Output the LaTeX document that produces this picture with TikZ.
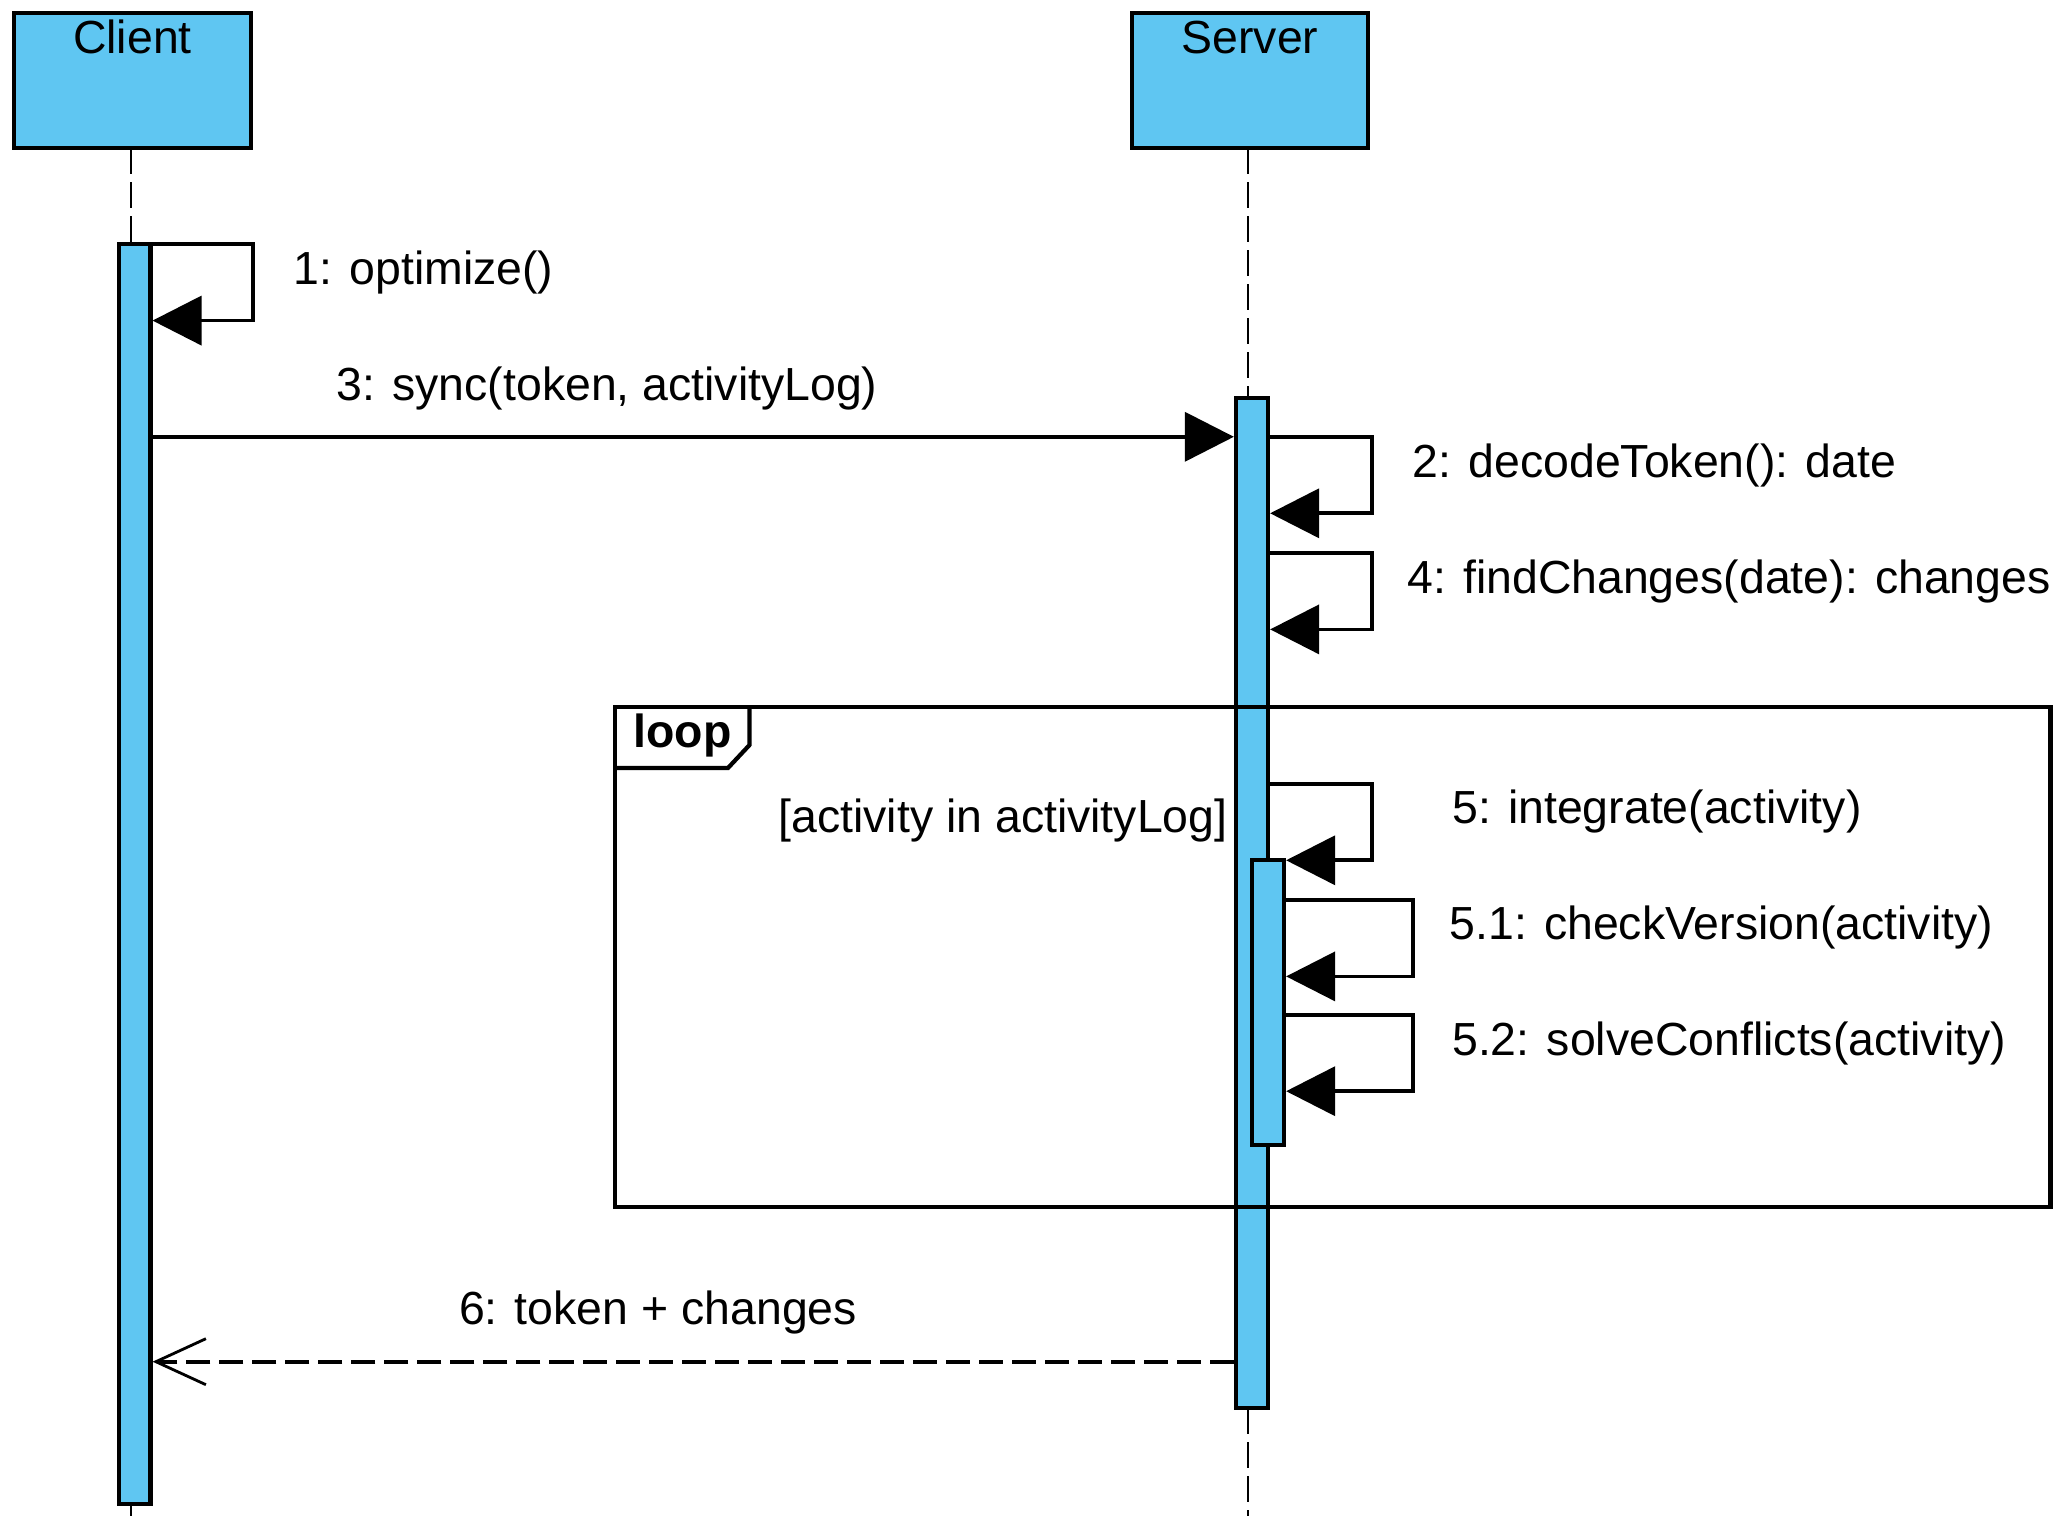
\documentclass[tikz,border=0pt]{standalone}
\usepackage{fontspec}
\setmainfont{Liberation Sans}
\usetikzlibrary{arrows.meta}
\definecolor{lifeblue}{HTML}{5FC6F2}
\begin{document}
\begin{tikzpicture}[x=0.01cm,y=-0.01cm,
  lbl/.style={font=\fontsize{13.2}{16}\selectfont, inner sep=0pt},
  headbox/.style={draw, line width=1.2pt, fill=lifeblue, inner sep=0pt},
  bar/.style={draw, line width=1.2pt, fill=lifeblue, inner sep=0pt},
  lifeline/.style={line width=0.7pt, dash pattern=on 0.26cm off 0.08cm},
  msg/.style={line width=1.05pt, -{Triangle[length=4.9mm,width=4.9mm]}},
  reply/.style={line width=1.05pt, dash pattern=on 0.24cm off 0.09cm, -{Straight Barb[length=5mm,width=4.6mm,line width=0.8pt]}},
  framebox/.style={line width=1.2pt}
]
\path[use as bounding box] (0,0) rectangle (2069,1516);

% heads
\node[headbox, minimum width=2.37cm, minimum height=1.35cm] (client) at (132.5,80.5) {};
\node[headbox, minimum width=2.36cm, minimum height=1.35cm] (server) at (1250,80.5) {};
\node[lbl, anchor=base] (clientlbl) at (132.5,54) {Client};
\node[lbl, anchor=base] (serverlbl) at (1250,54) {Server};

% lifelines
\coordinate (cl0) at (131,148);
\coordinate (cl1) at (131,244);
\coordinate (cl2) at (131,1504);
\coordinate (cl3) at (131,1516);
\coordinate (sl0) at (1248,148);
\coordinate (sl1) at (1248,398.5);
\coordinate (sl2) at (1248,1408);
\coordinate (sl3) at (1248,1516);
\draw[lifeline] (cl0) -- (cl1);
\draw[lifeline] (cl2) -- (cl3);
\draw[lifeline] (sl0) -- (sl1);
\draw[lifeline] (sl2) -- (sl3);

% guard text (behind the server bar)
\node[lbl, anchor=base, fill=white, inner xsep=3pt, inner ysep=3pt] (guard) at (1003,832.6) {[activity in activityLog]};

% activation bars
\node[bar, minimum width=0.316cm, minimum height=12.6cm] (cbar) at (134.6,874) {};
\node[bar, minimum width=0.32cm, minimum height=10.095cm] (sbar) at (1252,903.25) {};

% loop frame
\coordinate (fr0) at (614.9,707.3);
\coordinate (fr1) at (2050.5,1207.3);
\draw[framebox] (fr0) rectangle (fr1);
\coordinate (tab0) at (614.9,768);
\coordinate (tab1) at (728,768);
\coordinate (tab2) at (749.5,745);
\coordinate (tab3) at (749.5,707.3);
\draw[framebox] (tab0) -- (tab1) -- (tab2) -- (tab3);
\node[lbl, anchor=base west, font=\fontsize{13.2}{16}\selectfont\bfseries] (looplbl) at (633,748) {loop};

% nested bar
\node[bar, minimum width=0.32cm, minimum height=2.85cm] (nbar) at (1268,1002.5) {};

% 1: optimize()
\coordinate (l1a) at (253,244);
\coordinate (l1b) at (253,320.6);
\draw[msg] (cbar.east |- l1a) -- (l1a) -- (l1b) -- (cbar.east |- l1b);
\node[lbl, anchor=base west] (t1) at (293,285) {1: optimize()};

% 3: sync
\coordinate (m3) at (0,436.8);
\draw[msg] (cbar.east |- m3) -- (sbar.west |- m3);
\node[lbl, anchor=base] (t3) at (607,401) {3: sync(token, activityLog)};

% 2: decodeToken
\coordinate (l2a) at (1372.3,436.8);
\coordinate (l2b) at (1372.3,513.3);
\draw[msg] (sbar.east |- l2a) -- (l2a) -- (l2b) -- (sbar.east |- l2b);
\node[lbl, anchor=base west] (t2) at (1412,477.7) {2: decodeToken(): date};

% 4: findChanges
\coordinate (l4a) at (1372.3,552.9);
\coordinate (l4b) at (1372.3,629.4);
\draw[msg] (sbar.east |- l4a) -- (l4a) -- (l4b) -- (sbar.east |- l4b);
\node[lbl, anchor=base west] (t4) at (1406.6,593.8) {4: findChanges(date): changes};

% 5: integrate
\coordinate (l5a) at (1372.3,783.8);
\coordinate (l5b) at (1372.3,860.3);
\draw[msg] (sbar.east |- l5a) -- (l5a) -- (l5b) -- (nbar.east |- l5b);
\node[lbl, anchor=base west] (t5) at (1451.5,823.4) {5: integrate(activity)};

% 5.1
\coordinate (l51a) at (1413.2,900);
\coordinate (l51b) at (1413.2,976.4);
\draw[msg] (nbar.east |- l51a) -- (l51a) -- (l51b) -- (nbar.east |- l51b);
\node[lbl, anchor=base west] (t51) at (1448.8,939.5) {5.1: checkVersion(activity)};

% 5.2
\coordinate (l52a) at (1413.2,1014.7);
\coordinate (l52b) at (1413.2,1091.2);
\draw[msg] (nbar.east |- l52a) -- (l52a) -- (l52b) -- (nbar.east |- l52b);
\node[lbl, anchor=base west] (t52) at (1451.5,1055.6) {5.2: solveConflicts(activity)};

% 6: reply
\coordinate (m6) at (0,1361.7);
\draw[reply] (sbar.west |- m6) -- (cbar.east |- m6);
\node[lbl, anchor=base] (t6) at (658,1324.8) {6: token + changes};
\end{tikzpicture}
\end{document}
